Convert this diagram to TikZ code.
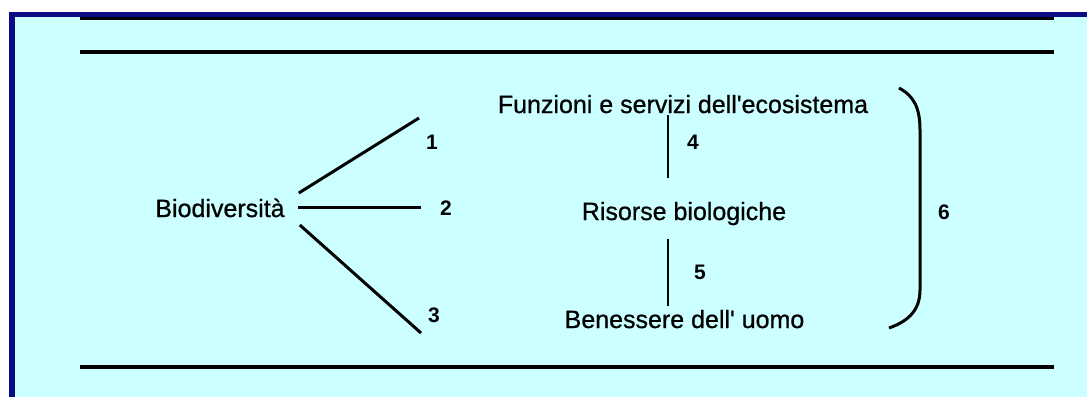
\documentclass[tikz,border=0pt]{standalone}
\usepackage{fontspec}
\setmainfont{Liberation Sans}
\newfontfamily\heavyfont[FakeBold=0.8]{Liberation Sans}
\usepackage{xcolor}
\definecolor{cFrame}{HTML}{0B0B82}
\definecolor{cBack}{HTML}{CCFFFF}
\definecolor{cInk}{HTML}{000000}
\usepackage{tikz}
\usetikzlibrary{positioning,calc}
\tikzset{
  node-text/.style={inner sep=0pt,anchor=base,text=cInk,
    font=\heavyfont\fontsize{25}{30}\selectfont},
  node-num/.style={inner sep=0pt,text=cInk,
    font=\bfseries\fontsize{21}{25}\selectfont},
  link/.style={draw=cInk,line width=3pt},
  link-v/.style={draw=cInk,line width=2.6pt},
  rule-bar/.style={draw=cInk,line width=4pt},
}

\begin{document}
\begin{tikzpicture}[x=1pt,y=-1pt]
  \useasboundingbox (0,0) rectangle (1087,397);
  % cornice e fondo
  \fill[cFrame] (9,12) rectangle (1087,397);
  \fill[cBack] (15,17) rectangle (1087,397);
  \draw[rule-bar,line width=3.4pt] (80,18.7) -- (1054,18.7);
  \draw[rule-bar] (80,52) -- (1054,52);
  \draw[rule-bar] (80,367) -- (1054,367);
  % testi
  \node[node-text] (bio) at (220,217)   {Biodiversità};
  \node[node-text] (eco) at (683,113)   {Funzioni e servizi dell'ecosistema};
  \node[node-text] (ris) at (684,220)   {Risorse biologiche};
  \node[node-text] (ben) at (684.5,328) {Benessere dell' uomo};
  % numeri
  \node[node-num] (n1) at (432,142) {1};
  \node[node-num] (n2) at (446,208) {2};
  \node[node-num] (n3) at (434,315) {3};
  \node[node-num] (n4) at (693,142) {4};
  \node[node-num] (n5) at (700,272) {5};
  \node[node-num] (n6) at (944,212) {6};
  % estremi liberi
  \coordinate (e1) at (419,118);
  \coordinate (e2) at (421,207);
  \coordinate (e3) at (421,333);
  \coordinate (br-a) at (899,88);
  \coordinate (br-b) at (889,328);
  % collegamenti
  \draw[link] ($(bio.base east)+(14,-24)$) -- (e1);
  \draw[link] ($(bio.base east)+(13,-10)$) -- (e2);
  \draw[link] ($(bio.base east)+(15,8)$) -- (e3);
  \draw[link-v] ($(eco.base)+(-15,2)$) -- ($(ris.base)+(-16,-42)$);
  \draw[link-v] ($(ris.base)+(-16,19)$) -- ($(ben.base)+(-16.5,-22)$);
  % parentesi
  \draw[link] (br-a) .. controls (914,96) and (920,108) .. (920,130)
    -- (920,290) .. controls (920,312) and (906,322) .. (br-b);
\end{tikzpicture}
\end{document}
